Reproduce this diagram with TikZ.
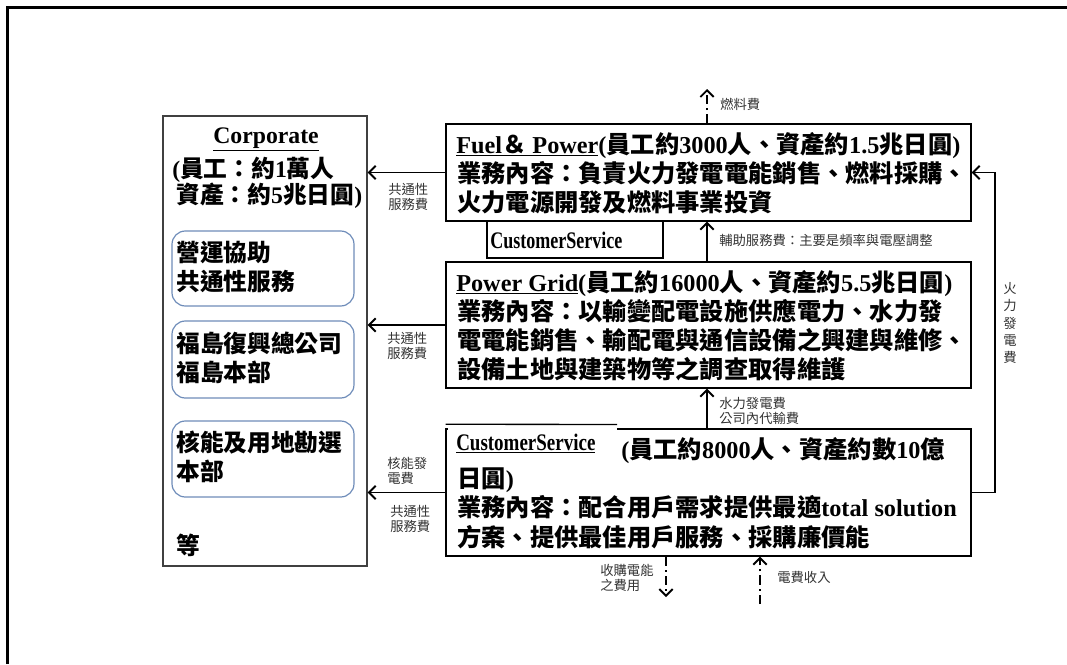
\documentclass[tikz,border=0pt]{standalone}
\usepackage{fontspec}
\usepackage{graphicx}
\setmainfont{Liberation Serif}
\newfontfamily\cjk{Noto Sans CJK TC}
\usetikzlibrary{arrows.meta,fit}
\newcommand\C[1]{{\cjk #1}}
\definecolor{rb}{RGB}{110,140,185}
\begin{document}
\begin{tikzpicture}[x=0.75pt,y=-0.75pt,
  box/.style={draw, line width=1pt, inner sep=0pt},
  rbox/.style={draw=rb, line width=0.9pt, rounded corners=10pt, inner sep=0pt},
  txt/.style={anchor=base west, inner sep=0pt, font=\bfseries\fontsize{17.8}{21}\selectfont},
  wtxt/.style={txt, font=\bfseries\fontsize{18.2}{21}\selectfont},
  lab/.style={anchor=west, inner sep=0pt, align=left, text=black!80, font=\cjk\fontsize{10}{11.5}\selectfont},
  arr/.style={line width=1.4pt, -{Straight Barb[length=5pt,width=10pt]}},
  darr/.style={arr, dash pattern=on 7pt off 3pt on 1.5pt off 3pt},
]
\path[use as bounding box] (0,0) rectangle (1067,664);
\draw[line width=1.8pt, black] (7.5,664) -- (7.5,7.5) -- (1067,7.5);

% boxes
\node[box, draw=black!75, fit={(163,116) (367,566)}] (corp) {};
\node[box, fit={(446,124) (971,221)}] (fuel) {};
\node[box, fit={(487,221) (663,258)}] (css) {};
\node[box, fit={(446,262) (971,388)}] (grid) {};
\node[box, fit={(446,429) (971,556)}] (cs) {};
\node[rbox, fit={(172,231) (354,306)}] (r1) {};
\node[rbox, fit={(172,321) (354,398)}] (r2) {};
\node[rbox, fit={(172,421) (354,497)}] (r3) {};
\node[fill=white, inner sep=0pt, fit={(447.5,423) (617,462)}] (mask) {};
\draw[line width=1pt] (mask.north west) ++(-1.5,1.5) -- (617,424.5);

% corporate texts
\node[txt, anchor=base] (corpT) at (266,143) {\underline{Corporate}};
\node[txt] (corp1) at (172,177) {(\C{員工：約}1\C{萬人}};
\node[txt] (corp2) at (176,203) {\C{資產：約}5\C{兆日圓})};
\node[txt] (r1a) at (176,261) {\C{營運協助}};
\node[txt] (r1b) at (176,290) {\C{共通性服務}};
\node[txt] (r2a) at (176,352) {\C{福島復興總公司}};
\node[txt] (r2b) at (176,381) {\C{福島本部}};
\node[txt] (r3a) at (176,451) {\C{核能及用地勘選}};
\node[txt] (r3b) at (176,480) {\C{本部}};
\node[txt] (etc) at (176,554) {\C{等}};

% fuel & power
\node[wtxt] (f1) at (456,153) {\underline{Fuel\C{＆} Power}(\C{員工約}3000\C{人、資產約}1.5\C{兆日圓})};
\node[wtxt] (f2) at (457,182) {\C{業務內容：負責火力發電電能銷售、燃料採購、}};
\node[wtxt] (f3) at (457,211) {\C{火力電源開發及燃料事業投資}};

\node[txt] (cssT) at (490,248) {\scalebox{0.76}[1]{CustomerService}};

% power grid
\node[wtxt] (g1) at (456,291) {\underline{Power Grid}(\C{員工約}16000\C{人、資產約}5.5\C{兆日圓})};
\node[wtxt] (g2) at (457,320) {\C{業務內容：以輸變配電設施供應電力、水力發}};
\node[wtxt] (g3) at (457,349) {\C{電電能銷售、輸配電與通信設備之興建與維修、}};
\node[wtxt] (g4) at (457,378) {\C{設備土地與建築物等之調查取得維護}};

% customer service
\node[txt] (c0) at (456,450) {\underline{\scalebox{0.8}[1]{CustomerService}}};
\node[wtxt] (c1) at (621,458) {(\C{員工約}8000\C{人、資產約數}10\C{億}};
\node[wtxt] (c2) at (457,487) {\C{日圓})};
\node[wtxt] (c3) at (457,516) {\C{業務內容：配合用戶需求提供最適}total solution};
\node[wtxt] (c4) at (457,546) {\C{方案、提供最佳用戶服務、採購廉價能}};

% connectors
\draw[arr] (fuel.west) -- (fuel.west -| corp.east);
\draw[arr] (grid.west) -- (grid.west -| corp.east);
\draw[arr] (cs.west) -- (cs.west -| corp.east);
\draw[arr] (cs.east) -- ++(23,0) |- (fuel.east);
\coordinate (mx) at (707,0);
\draw[arr] (grid.north -| mx) -- (fuel.south -| mx);
\draw[arr] (cs.north -| mx) -- (grid.south -| mx);
\coordinate (fueltop) at (707,89);
\draw[darr] (fuel.north -| mx) -- (fueltop);
\coordinate (buyend) at (666,597);
\draw[darr] (cs.south -| buyend) -- (buyend);
\coordinate (incstart) at (760,604);
\draw[darr] (incstart) -- (cs.south -| incstart);

% labels
\node[lab] (l1) at (388,197) {共通性\\服務費};
\node[lab] (l2) at (387,346) {共通性\\服務費};
\node[lab] (l3) at (387,471) {核能發\\電費};
\node[lab] (l4) at (390,519) {共通性\\服務費};
\node[lab] (l5) at (720,104) {燃料費};
\node[lab] (l6) at (719,240) {輔助服務費：主要是頻率與電壓調整};
\node[lab] (l7) at (719,411) {水力發電費\\公司內代輸費};
\node[lab] (l8) at (600,578) {收購電能\\之費用};
\node[lab] (l9) at (777,577) {電費收入};
\node[lab, align=center, anchor=center, font=\cjk\fontsize{10}{13}\selectfont] (l10) at (1010,323) {火\\力\\發\\電\\費};
\end{tikzpicture}
\end{document}
